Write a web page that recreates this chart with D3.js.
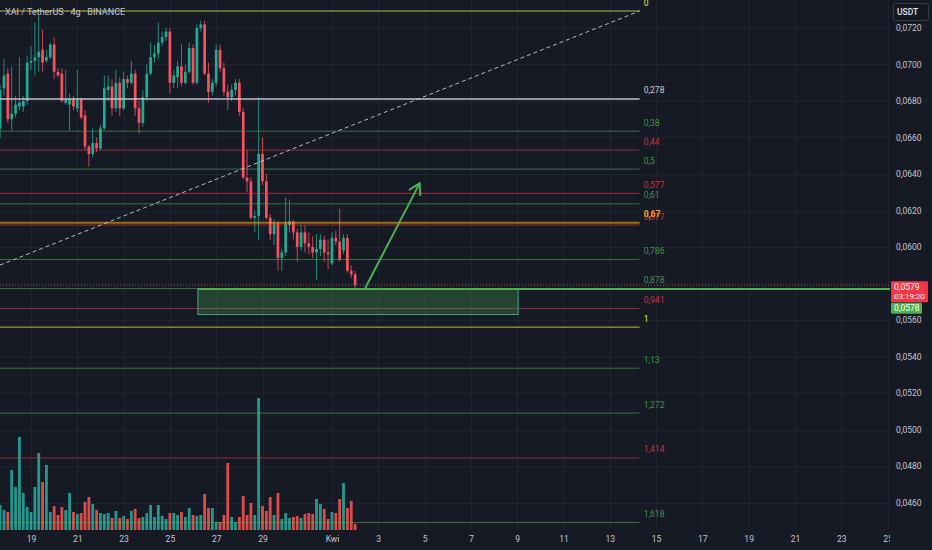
<!DOCTYPE html>
<html>
<head>
<meta charset="utf-8">
<script src="https://cdn.jsdelivr.net/npm/d3@7"></script>
<style>
html, body { margin: 0; padding: 0; background: #161a25; overflow: hidden; }
svg { display: block; }
</style>
</head>
<body>
<script>
// XAI / USDT, 4h candles, first one opens 17 Mar 2025 16:00 UTC
var START = Date.UTC(2025, 2, 17, 16);
var STEP = 4 * 3600 * 1000;

var opens = [
  0.0665, 0.0687, 0.0695, 0.0670, 0.0673, 0.0677, 0.0677, 0.0680,
  0.0701, 0.0702, 0.0704, 0.0708, 0.0702, 0.0704, 0.0711, 0.0696, 0.0695, 0.0679, 0.0678, 0.0681,
  0.0676, 0.0681, 0.0672, 0.0655, 0.0651, 0.0657, 0.0654, 0.0665, 0.0686, 0.0688, 0.0676, 0.0690,
  0.0676, 0.0692, 0.0690, 0.0695, 0.0676, 0.0668, 0.0682, 0.0695, 0.0704, 0.0706, 0.0712, 0.0715,
  0.0718, 0.0690, 0.0693, 0.0699, 0.0690, 0.0696, 0.0709, 0.0690, 0.0720, 0.0722, 0.0695, 0.0685,
  0.0690, 0.0708, 0.0698, 0.0685, 0.0682, 0.0686, 0.0690, 0.0674, 0.0638, 0.0636, 0.0616, 0.0617,
  0.0651, 0.0636, 0.0616, 0.0607, 0.0613, 0.0594, 0.0597, 0.0612, 0.0614, 0.0608, 0.0600, 0.0608,
  0.0602, 0.0600, 0.0597, 0.0599, 0.0604, 0.0597, 0.0591, 0.0605, 0.0603, 0.0598, 0.0605, 0.0587,
  0.0585
];
var highs = [
  0.0689, 0.0703, 0.0698, 0.0699, 0.0683, 0.0704, 0.0683, 0.0705,
  0.0710, 0.0723, 0.0727, 0.0719, 0.0708, 0.0712, 0.0715, 0.0698, 0.0698, 0.0697, 0.0684, 0.0683,
  0.0697, 0.0682, 0.0675, 0.0656, 0.0665, 0.0660, 0.0667, 0.0694, 0.0694, 0.0692, 0.0697, 0.0693,
  0.0696, 0.0694, 0.0702, 0.0697, 0.0680, 0.0686, 0.0700, 0.0712, 0.0711, 0.0723, 0.0718, 0.0720,
  0.0720, 0.0697, 0.0702, 0.0711, 0.0700, 0.0712, 0.0711, 0.0722, 0.0724, 0.0724, 0.0701, 0.0692,
  0.0711, 0.0711, 0.0701, 0.0689, 0.0689, 0.0692, 0.0692, 0.0676, 0.0653, 0.0638, 0.0620, 0.0682,
  0.0660, 0.0640, 0.0618, 0.0615, 0.0614, 0.0599, 0.0627, 0.0626, 0.0615, 0.0610, 0.0612, 0.0612,
  0.0608, 0.0606, 0.0607, 0.0607, 0.0606, 0.0604, 0.0608, 0.0609, 0.0621, 0.0607, 0.0607, 0.0590,
  0.0587
];
var lows = [
  0.0660, 0.0683, 0.0668, 0.0664, 0.0671, 0.0675, 0.0674, 0.0678,
  0.0697, 0.0694, 0.0696, 0.0696, 0.0701, 0.0703, 0.0692, 0.0693, 0.0679, 0.0678, 0.0664, 0.0675,
  0.0674, 0.0670, 0.0653, 0.0644, 0.0649, 0.0652, 0.0653, 0.0664, 0.0680, 0.0672, 0.0674, 0.0672,
  0.0675, 0.0687, 0.0689, 0.0672, 0.0662, 0.0666, 0.0680, 0.0694, 0.0701, 0.0703, 0.0710, 0.0713,
  0.0684, 0.0687, 0.0687, 0.0688, 0.0689, 0.0695, 0.0689, 0.0689, 0.0718, 0.0694, 0.0679, 0.0683,
  0.0688, 0.0696, 0.0683, 0.0675, 0.0680, 0.0683, 0.0672, 0.0637, 0.0630, 0.0615, 0.0608, 0.0604,
  0.0634, 0.0615, 0.0604, 0.0601, 0.0587, 0.0587, 0.0595, 0.0608, 0.0604, 0.0592, 0.0598, 0.0597,
  0.0596, 0.0594, 0.0582, 0.0595, 0.0592, 0.0588, 0.0590, 0.0601, 0.0592, 0.0596, 0.0586, 0.0583,
  0.0577
];
var closes = [
  0.0686, 0.0694, 0.0670, 0.0673, 0.0678, 0.0679, 0.0680, 0.0701,
  0.0702, 0.0704, 0.0707, 0.0701, 0.0704, 0.0711, 0.0696, 0.0694, 0.0680, 0.0681, 0.0681, 0.0677,
  0.0681, 0.0671, 0.0655, 0.0651, 0.0657, 0.0654, 0.0665, 0.0687, 0.0688, 0.0676, 0.0690, 0.0676,
  0.0692, 0.0690, 0.0695, 0.0676, 0.0668, 0.0682, 0.0695, 0.0704, 0.0706, 0.0712, 0.0715, 0.0718,
  0.0690, 0.0694, 0.0699, 0.0690, 0.0696, 0.0709, 0.0690, 0.0720, 0.0722, 0.0695, 0.0685, 0.0690,
  0.0708, 0.0698, 0.0685, 0.0682, 0.0686, 0.0690, 0.0674, 0.0638, 0.0636, 0.0616, 0.0617, 0.0651,
  0.0636, 0.0616, 0.0607, 0.0613, 0.0594, 0.0597, 0.0613, 0.0614, 0.0608, 0.0600, 0.0608, 0.0602,
  0.0600, 0.0597, 0.0599, 0.0604, 0.0597, 0.0596, 0.0605, 0.0603, 0.0593, 0.0605, 0.0587, 0.0585,
  0.0579
];
var volumes = [
  250, 200, 180, 600, 430, 930, 370, 230,
  180, 430, 770, 480, 650, 180, 240, 150, 230, 200, 370, 180,
  160, 170, 280, 330, 260, 200, 170, 160, 170, 120, 190, 120,
  140, 110, 190, 210, 120, 130, 170, 250, 130, 250, 140, 110,
  170, 170, 150, 180, 130, 220, 150, 140, 150, 360, 220, 220,
  80, 80, 150, 670, 130, 80, 130, 340, 150, 270, 150, 1320,
  240, 190, 330, 150, 370, 110, 170, 120, 130, 140, 120, 160,
  170, 160, 310, 260, 210, 110, 180, 170, 310, 470, 220, 290,
  60
];

// grid lines at every step; the 0,0580 label sits under the price badge
var priceTicks = [0.046, 0.048, 0.050, 0.052, 0.054, 0.056, 0.058,
                  0.060, 0.062, 0.064, 0.066, 0.068, 0.070, 0.072];
var priceLabels = [0.046, 0.048, 0.050, 0.052, 0.054, 0.056,
                   0.060, 0.062, 0.064, 0.066, 0.068, 0.070, 0.072];
var dayTicks = [
  Date.UTC(2025, 2, 19), Date.UTC(2025, 2, 21), Date.UTC(2025, 2, 23), Date.UTC(2025, 2, 25),
  Date.UTC(2025, 2, 27), Date.UTC(2025, 2, 29), Date.UTC(2025, 3, 1), Date.UTC(2025, 3, 3),
  Date.UTC(2025, 3, 5), Date.UTC(2025, 3, 7), Date.UTC(2025, 3, 9), Date.UTC(2025, 3, 11),
  Date.UTC(2025, 3, 13), Date.UTC(2025, 3, 15), Date.UTC(2025, 3, 17), Date.UTC(2025, 3, 19),
  Date.UTC(2025, 3, 21), Date.UTC(2025, 3, 23), Date.UTC(2025, 3, 25)
];
var dayLabels = ['19', '21', '23', '25', '27', '29', 'Kwi', '3', '5', '7', '9',
                 '11', '13', '15', '17', '19', '21', '23', '25'];

// fibonacci retracement drawn between two anchors
var fibLevels = [0, 0.278, 0.38, 0.44, 0.5, 0.577, 0.61, 0.677, 0.67,
                 0.786, 0.878, 0.941, 1, 1.13, 1.272, 1.414, 1.618];
var fibFrom = { t: Date.UTC(2025, 2, 10, 22), p: 0.05561 };
var fibTo   = { t: Date.UTC(2025, 3, 14, 7),  p: 0.07293 };

// demand zone, projection arrow, price lines
var zoneTime  = [Date.UTC(2025, 2, 26, 5), Date.UTC(2025, 3, 9, 1)];
var zonePrice = [0.0577, 0.0563];
var arrowTime  = [Date.UTC(2025, 3, 2, 10), Date.UTC(2025, 3, 4, 19)];
var arrowPrice = [0.0577, 0.0635];
var lastPrice = 0.0579;
var linePrice = 0.0578;
var countdown = '03:19:20';

// ---- styles ----
var BG = '#161a25', GRID = '#1f2330', TEXT = '#c3c6ce';
var UP = '#22ab94', DOWN = '#f7525f';
var FONT = 'Roboto, "Noto Sans", sans-serif';
function fibColor(l) {
  if (l === 0 || l === 1) return '#e8e84a';
  if (l === 0.278) return '#c9ccd4';
  if (l === 0.67) return '#ffa200';
  if ([0.44, 0.577, 0.677, 0.941, 1.414].indexOf(l) >= 0) return '#f23645';
  return '#4caf50';
}

var W = 932, H = 550, PW = 890, PH = 530;

var svg = d3.select('body').append('svg')
            .attr('width', W)
            .attr('height', H)
            .style('font-family', FONT);

svg.append('rect').attr('width', W).attr('height', H).attr('fill', BG);
svg.append('clipPath').attr('id', 'clip')
   .append('rect').attr('width', PW).attr('height', PH);

var x = d3.scaleUtc()
          .domain([Date.UTC(2025, 2, 19), Date.UTC(2025, 3, 2)])
          .range([31, 355.1]);
var y = d3.scaleLinear()
          .domain([0.0720, 0.0560])
          .range([28, 320]);
var yVol = d3.scaleLinear()
             .domain([0, d3.max(volumes)])
             .range([PH, 398]);

var locale = d3.formatLocale({ decimal: ',', thousands: ' ', grouping: [3], currency: ['', ''] });
var fmtPrice = locale.format('.4f');
function fmtLevel(l) { return String(l).replace('.', ','); }

// grid
var grid = svg.append('g').attr('clip-path', 'url(#clip)');
grid.selectAll('.hg').data(priceTicks).enter().append('line')
    .attr('x1', 0).attr('x2', PW)
    .attr('y1', function(d) { return Math.round(y(d)) + 0.5; })
    .attr('y2', function(d) { return Math.round(y(d)) + 0.5; })
    .attr('stroke', GRID);
grid.selectAll('.vg').data(dayTicks).enter().append('line')
    .attr('y1', 0).attr('y2', PH)
    .attr('x1', function(d) { return Math.round(x(d)) + 0.5; })
    .attr('x2', function(d) { return Math.round(x(d)) + 0.5; })
    .attr('stroke', GRID);

var plot = svg.append('g').attr('clip-path', 'url(#clip)');
var idx = d3.range(closes.length);
function tAt(i) { return START + i * STEP; }
function isUp(i) { return closes[i] >= opens[i]; }

// volume
plot.append('g').selectAll('rect').data(idx).enter().append('rect')
    .attr('x', function(i) { return x(tAt(i)) - 1.4; })
    .attr('width', 2.8)
    .attr('y', function(i) { return yVol(volumes[i]); })
    .attr('height', function(i) { return PH - yVol(volumes[i]); })
    .attr('fill', function(i) { return isUp(i) ? '#26a69a' : '#ef5350'; })
    .attr('opacity', 0.9);

// candles
var candles = plot.append('g');
candles.selectAll('line').data(idx).enter().append('line')
    .attr('x1', function(i) { return x(tAt(i)); })
    .attr('x2', function(i) { return x(tAt(i)); })
    .attr('y1', function(i) { return y(highs[i]); })
    .attr('y2', function(i) { return y(lows[i]); })
    .attr('stroke', function(i) { return isUp(i) ? UP : DOWN; })
    .attr('stroke-width', 0.8);
candles.selectAll('rect').data(idx).enter().append('rect')
    .attr('x', function(i) { return x(tAt(i)) - 1.35; })
    .attr('width', 2.7)
    .attr('y', function(i) { return y(Math.max(opens[i], closes[i])); })
    .attr('height', function(i) { return Math.max(1, Math.abs(y(opens[i]) - y(closes[i]))); })
    .attr('fill', function(i) { return isUp(i) ? UP : DOWN; });

// current price dotted line
plot.append('line')
    .attr('x1', 0).attr('x2', PW)
    .attr('y1', y(lastPrice)).attr('y2', y(lastPrice))
    .attr('stroke', DOWN).attr('stroke-dasharray', '1,2').attr('opacity', 0.7);

// fibonacci levels
var fibX1 = x(fibFrom.t), fibX2 = x(fibTo.t);
function fibPrice(l) { return fibTo.p - l * (fibTo.p - fibFrom.p); }
var fib = plot.append('g');
fib.selectAll('line').data(fibLevels).enter().append('line')
   .attr('x1', fibX1).attr('x2', fibX2)
   .attr('y1', function(l) { return y(fibPrice(l)); })
   .attr('y2', function(l) { return y(fibPrice(l)); })
   .attr('stroke', fibColor)
   .attr('stroke-width', function(l) { return (l === 0.278 || l === 0.67) ? 2 : 1; })
   .attr('opacity', function(l) { return l === 0.278 ? 0.7 : (l === 0 || l === 1 ? 0.8 : 0.6); });
fib.selectAll('text').data(fibLevels).enter().append('text')
   .attr('x', fibX2 + 4)
   .attr('y', function(l) { return y(fibPrice(l)) - 5.5; })
   .attr('fill', fibColor)
   .attr('font-size', 8.5)
   .attr('font-weight', function(l) { return l === 0.67 ? 'bold' : null; })
   .attr('opacity', function(l) { return l === 0.278 || l === 0.67 || l === 0 || l === 1 ? 1 : 0.8; })
   .text(fmtLevel);
// trend line of the retracement
fib.append('line')
   .attr('x1', fibX1).attr('y1', y(fibFrom.p))
   .attr('x2', fibX2).attr('y2', y(fibTo.p))
   .attr('stroke', '#c9ccd4').attr('stroke-width', 1)
   .attr('stroke-dasharray', '4,3').attr('opacity', 0.9);

// demand zone
plot.append('rect')
    .attr('x', x(zoneTime[0])).attr('width', x(zoneTime[1]) - x(zoneTime[0]))
    .attr('y', y(zonePrice[0])).attr('height', y(zonePrice[1]) - y(zonePrice[0]))
    .attr('fill', '#4caf50').attr('fill-opacity', 0.28)
    .attr('stroke', '#2fae8c').attr('stroke-width', 1);

// horizontal ray at the zone top
plot.append('line')
    .attr('x1', x(zoneTime[0])).attr('x2', PW)
    .attr('y1', y(zonePrice[0])).attr('y2', y(zonePrice[0]))
    .attr('stroke', '#4caf50').attr('stroke-width', 2);

// projection arrow
var ax0 = x(arrowTime[0]), ay0 = y(arrowPrice[0]);
var ax1 = x(arrowTime[1]), ay1 = y(arrowPrice[1]);
var ang = Math.atan2(ay1 - ay0, ax1 - ax0);
var head = 12, spread = Math.PI / 6;
plot.append('path')
    .attr('d', 'M' + ax0 + ',' + ay0 + 'L' + ax1 + ',' + ay1 +
               'M' + (ax1 - head * Math.cos(ang - spread)) + ',' + (ay1 - head * Math.sin(ang - spread)) +
               'L' + ax1 + ',' + ay1 +
               'L' + (ax1 - head * Math.cos(ang + spread)) + ',' + (ay1 - head * Math.sin(ang + spread)))
    .attr('fill', 'none')
    .attr('stroke', '#4caf50').attr('stroke-width', 2)
    .attr('stroke-linecap', 'round').attr('stroke-linejoin', 'round');

// title
svg.append('text')
   .attr('x', 5).attr('y', 14.5)
   .attr('fill', TEXT).attr('font-size', 9)
   .text('XAI / TetherUS · 4g · BINANCE');

// time axis
var xAxis = d3.axisBottom(x)
              .tickValues(dayTicks)
              .tickFormat(function(d, i) { return dayLabels[i]; })
              .tickSize(0)
              .tickPadding(4);
var gx = svg.append('g').attr('transform', 'translate(0,' + (PH + 2) + ')').call(xAxis);
gx.attr('font-family', FONT).attr('font-size', 8.5);
gx.select('.domain').remove();
gx.selectAll('text').attr('fill', TEXT);

// price scale panel
svg.append('rect').attr('x', PW).attr('y', 0).attr('width', W - PW).attr('height', H).attr('fill', BG);
var yAxis = d3.axisRight(y)
              .tickValues(priceLabels)
              .tickFormat(fmtPrice)
              .tickSize(0)
              .tickPadding(6);
var gy = svg.append('g').attr('transform', 'translate(' + PW + ',0)').call(yAxis);
gy.attr('font-family', FONT).attr('font-size', 8.5);
gy.select('.domain').remove();
gy.selectAll('text').attr('fill', TEXT);

// currency badge
svg.append('rect')
   .attr('x', 893.5).attr('y', 3.5).attr('width', 35).attr('height', 17).attr('rx', 2)
   .attr('fill', '#131722').attr('stroke', '#363a45');
svg.append('text')
   .attr('x', 897).attr('y', 15)
   .attr('fill', '#e0e3eb').attr('font-size', 8.5).attr('font-weight', 500)
   .text('USDT');

// last price badge with countdown
var lp = y(lastPrice);
svg.append('rect')
   .attr('x', 891).attr('y', lp - 4).attr('width', 37).attr('height', 21).attr('rx', 1)
   .attr('fill', '#f23645');
svg.append('text').attr('x', 894).attr('y', lp + 4.5)
   .attr('fill', '#ffffff').attr('font-size', 8.5).text(fmtPrice(lastPrice));
svg.append('text').attr('x', 894).attr('y', lp + 13.5)
   .attr('fill', '#ffffff').attr('font-size', 8).text(countdown);

// line price badge (pushed under the last price badge)
svg.append('rect')
   .attr('x', 891).attr('y', lp + 17.5).attr('width', 31).attr('height', 11).attr('rx', 1)
   .attr('fill', '#4caf50');
svg.append('text').attr('x', 894).attr('y', lp + 26)
   .attr('fill', '#ffffff').attr('font-size', 8.5).text(fmtPrice(linePrice));
</script>
</body>
</html>
